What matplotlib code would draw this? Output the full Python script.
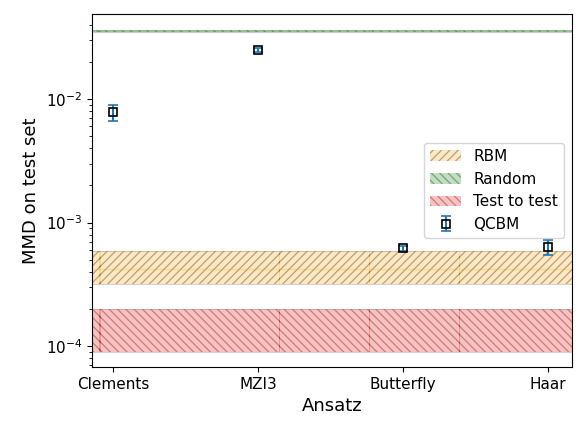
import numpy as np
import matplotlib
matplotlib.use("Agg")
from matplotlib import pyplot as plt

ansatz = ["Clements", "MZI3", "Butterfly", "Haar"]
qcbm_mmd = [7.85e-3, 2.49e-2, 6.18e-4, 6.37e-4]
qcbm_err_low = [1.25e-3, 0.9e-3, 0.25e-4, 0.9e-4]
qcbm_err_high = [1.15e-3, 0.9e-3, 0.25e-4, 0.85e-4]

rbm_mean, rbm_low, rbm_high = 4.25e-4, 3.18e-4, 5.9e-4
random_mean, random_low, random_high = 3.57e-2, 3.52e-2, 3.62e-2
test_mean, test_low, test_high = 1.35e-4, 9.0e-5, 1.99e-4

xlim = (-0.145, 3.166)
seams = [xlim[0], -0.097, 1.145, 1.766, 2.386, xlim[1]]

fig = plt.figure(figsize=(5.87, 4.25), dpi=100)
ax = fig.add_axes([0.157, 0.136, 0.817, 0.831])

bands = [
    ("RBM", rbm_mean, rbm_low, rbm_high, "orange", "////"),
    ("Random", random_mean, random_low, random_high, "green", "\\" * 4),
    ("Test to test", test_mean, test_low, test_high, "red", "\\" * 4),
]
plt.rcParams["hatch.linewidth"] = 0.9
for label, m, lo, hi, c, h in bands:
    for i in range(len(seams) - 1):
        xs = [seams[i], seams[i + 1] + 0.01]
        ax.fill_between(xs, lo, hi, facecolor=matplotlib.colors.to_rgba(c, 0.25),
                        edgecolor=(0, 0, 0, 0.3), hatch=h, linewidth=0,
                        label=label if i == 0 else None)
    ax.plot(xlim, [lo, lo], color="grey", alpha=0.35, lw=0.8)
    ax.plot(xlim, [hi, hi], color="grey", alpha=0.35, lw=0.8)
    if label != "Test to test":
        ax.plot(xlim, [m, m], color=c, alpha=0.25, lw=1)

x = np.arange(len(ansatz))
ax.errorbar(x, qcbm_mmd, yerr=[qcbm_err_low, qcbm_err_high], fmt="s",
            mfc="none", mec="black", ms=6, mew=1.2, ecolor="tab:blue",
            capsize=3.5, elinewidth=1.5, label="QCBM")

ax.set_yscale("log")
ax.set_xlim(*xlim)
ax.set_ylim(6.76e-5, 4.88e-2)
ax.set_xticks(x)
ax.set_xticklabels(ansatz)
ax.tick_params(labelsize=11)
ax.set_xlabel("Ansatz", fontsize=13)
ax.set_ylabel("MMD on test set", fontsize=13)
ax.legend(loc="center right", fontsize=11)

fig.savefig("out.png", dpi=100)
